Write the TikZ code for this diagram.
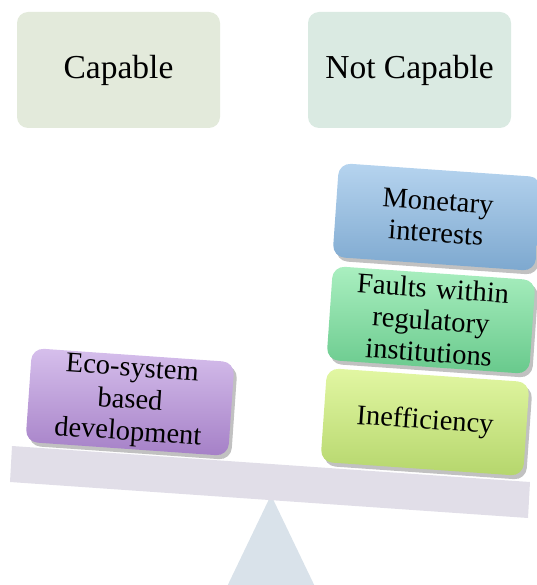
\documentclass[tikz,border=0pt]{standalone}
\usepackage{fontspec}
\setmainfont{Liberation Serif}
\usetikzlibrary{shadows}
\definecolor{capfill}{HTML}{E3EADB}
\definecolor{notcapfill}{HTML}{DAEAE2}
\definecolor{beamfill}{HTML}{E1DEE8}
\definecolor{fulcfill}{HTML}{D9E2EA}
\definecolor{blueT}{HTML}{B6D4EF}
\definecolor{blueB}{HTML}{7DA8CF}
\definecolor{greenT}{HTML}{AAEFC0}
\definecolor{greenB}{HTML}{68C98C}
\definecolor{limeT}{HTML}{E2F7A3}
\definecolor{limeB}{HTML}{B5D66C}
\definecolor{purpT}{HTML}{D6BFEC}
\definecolor{purpB}{HTML}{A580C7}
\tikzset{
  header/.style={rounded corners=11pt, minimum width=203pt, minimum height=116pt,
    inner sep=0pt, font=\fontsize{33.5}{38}\selectfont},
  weight/.style={rounded corners=12pt, minimum width=203pt, minimum height=94pt,
    inner sep=2pt, text width=190pt, align=center, rotate=-4,
    font=\fontsize{28.5}{32}\selectfont,
    drop shadow={shadow xshift=3pt, shadow yshift=-4pt, opacity=0.35, fill=black!70}},
}
\begin{document}
\begin{tikzpicture}[x=1pt,y=-1pt]
\useasboundingbox (0,0) rectangle (536,585);
% headers
\node[header, fill=capfill] (cap) at (118.5,70) {Capable};
\node[header, fill=notcapfill] (notcap) at (409.5,70) {Not Capable};
% fulcrum
\fill[fulcfill] (271,495) -- (331,620) -- (211,620) -- cycle;
% beam
\fill[beamfill] (12,446) -- (530,482) -- (528,518) -- (10,482) -- cycle;
% weights
\node[weight, top color=purpT, bottom color=purpB] (eco) at (130,402) {Eco-system\\based\\development};
\node[weight, top color=limeT, bottom color=limeB] (ineff) at (425,422) {Inefficiency};
\node[weight, top color=greenT, bottom color=greenB] (faults) at (431,320) {Faults within\\regulatory\\institutions};
\node[weight, top color=blueT, bottom color=blueB] (money) at (437,217) {Monetary\\interests};
\end{tikzpicture}
\end{document}
